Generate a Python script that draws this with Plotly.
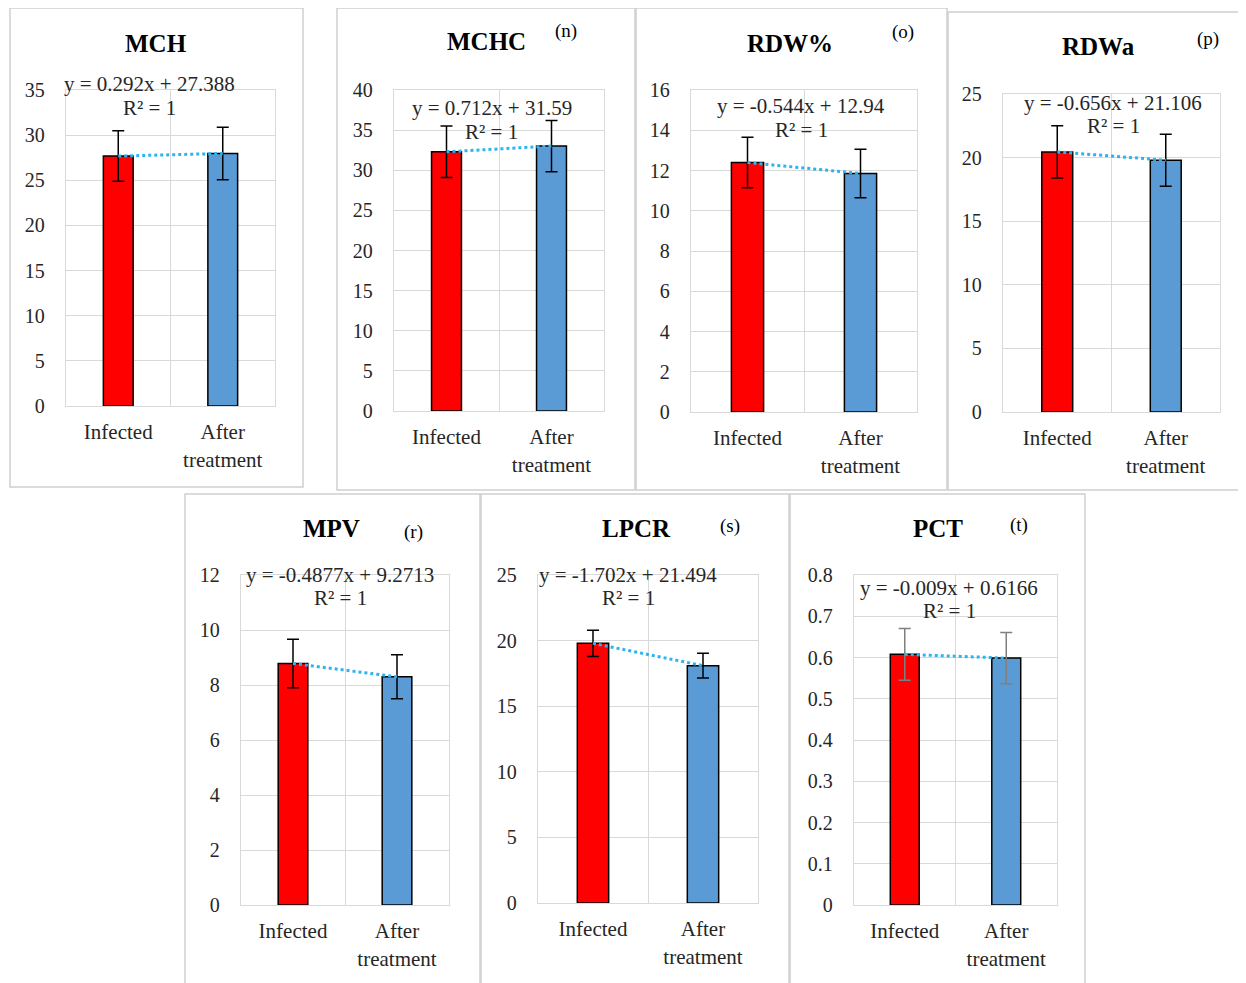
import plotly.graph_objects as go

# ---------------- data ----------------
categories = ["Infected", "After<br>treatment"]
panel_names = ["MCH", "MCHC", "RDW%", "RDWa", "MPV", "LPCR", "PCT"]
panel_tags = ["", "(n)", "(o)", "(p)", "(r)", "(s)", "(t)"]

mch_values = [27.680, 27.972]
mch_errors = [2.8, 2.9]
mchc_values = [32.302, 33.014]
mchc_errors = [3.2, 3.2]
rdw_pct_values = [12.396, 11.852]
rdw_pct_errors = [1.25, 1.2]
rdwa_values = [20.450, 19.794]
rdwa_errors = [2.05, 2.05]
mpv_values = [8.7836, 8.2959]
mpv_errors = [0.88, 0.8]
lpcr_values = [19.792, 18.090]
lpcr_errors = [1.0, 0.95]
pct_values = [0.6076, 0.5986]
pct_errors = [0.063, 0.062]

equations = [
    "y = 0.292x + 27.388",
    "y = 0.712x + 31.59",
    "y = -0.544x + 12.94",
    "y = -0.656x + 21.106",
    "y = -0.4877x + 9.2713",
    "y = -1.702x + 21.494",
    "y = -0.009x + 0.6166",
]
r_squared = ["R² = 1"] * 7

y_max = [35, 40, 16, 25, 12, 25, 0.8]
y_step = [5, 5, 2, 5, 2, 5, 0.1]

values = [mch_values, mchc_values, rdw_pct_values, rdwa_values,
          mpv_values, lpcr_values, pct_values]
errors = [mch_errors, mchc_errors, rdw_pct_errors, rdwa_errors,
          mpv_errors, lpcr_errors, pct_errors]

# ---------------- layout / style ----------------
W, H = 1246, 983
OFF = 8  # page body margin
FONT = "Liberation Serif"
GRID = "#d9d9d9"
BAR_COLORS = ["#FF0000", "#5B9BD5"]
ERR_COLORS = ["black"] * 6 + ["#7f7f7f"]


def px(x):
    return (x - OFF) / W


def py(y):
    return 1 - (y - OFF) / H


# plot areas in window pixels: (left, right, top, bottom)
plot_boxes = [
    (66, 275, 90, 406),
    (394, 604, 90, 411),
    (691, 917, 90, 412),
    (1003, 1220, 94, 412),
    (241, 449, 575, 905),
    (538, 758, 575, 903),
    (854, 1057, 575, 905),
]
panel_frames = [
    (10, 303, 8, 487),
    (337, 635, 8, 490),
    (636, 947, 8, 490),
    (948, 1252, 12, 490),
    (185, 480, 494, 995),
    (481, 789, 494, 995),
    (790, 1085, 494, 995),
]
title_pos = [(156, 43), (486, 42), (790, 43), (1098, 47), (331, 528), (636, 528), (938, 528)]
tag_pos = [None, (566, 31), (903, 32), (1208, 39), (413, 532), (730, 526), (1019, 525)]
eq_pos = [(149, 84), (492, 108), (801, 106), (1113, 103), (340, 575), (628, 575), (949, 588)]
r2_pos = [(149, 108), (491, 132), (801, 130), (1113, 126), (340, 598), (628, 598), (949, 611)]

fig = go.Figure()
layout = dict(
    template="none",
    width=W, height=H,
    margin=dict(l=0, r=0, t=0, b=0, pad=0, autoexpand=False),
    paper_bgcolor="white", plot_bgcolor="white",
    showlegend=False,
    bargap=0.715,
    font=dict(family=FONT, color="#262626"),
)
annotations = []
shapes = []

for i in range(7):
    xa = "x" if i == 0 else f"x{i+1}"
    ya = "y" if i == 0 else f"y{i+1}"
    xkey = "xaxis" if i == 0 else f"xaxis{i+1}"
    ykey = "yaxis" if i == 0 else f"yaxis{i+1}"
    l, r, t, b = plot_boxes[i]

    fig.add_trace(go.Bar(
        x=categories, y=values[i], xaxis=xa, yaxis=ya,
        marker=dict(color=BAR_COLORS, line=dict(color="black", width=1.5)),
        error_y=dict(type="data", array=errors[i], color=ERR_COLORS[i],
                     thickness=1.5, width=6),
        hoverinfo="skip",
    ))
    fig.add_trace(go.Scatter(
        x=categories, y=values[i], xaxis=xa, yaxis=ya, mode="lines",
        line=dict(color="#2DB4EE", width=3, dash="dot"),
        hoverinfo="skip",
    ))

    layout[xkey] = dict(
        domain=[px(l), px(r)], anchor=ya, type="category", automargin=False,
        tickson="boundaries", showgrid=True, gridcolor=GRID, gridwidth=1.3,
        showline=True, mirror=True, linecolor=GRID, linewidth=1.3,
        zeroline=False,
        ticks="", ticklabelstandoff=7,
        tickfont=dict(family=FONT, size=21, color="#262626"),
        fixedrange=True,
    )
    layout[ykey] = dict(
        domain=[py(b), py(t)], anchor=xa, range=[0, y_max[i]], automargin=False,
        tick0=0, dtick=y_step[i], showgrid=True, gridcolor=GRID, gridwidth=1.3,
        showline=True, mirror=True, linecolor=GRID, linewidth=1.3,
        zeroline=False,
        ticks="outside", ticklen=16, tickcolor="rgba(0,0,0,0)",
        tickfont=dict(family=FONT, size=20, color="#262626"),
        fixedrange=True,
    )

    fl, fr, ft, fb = panel_frames[i]
    shapes.append(dict(type="rect", xref="paper", yref="paper",
                       x0=px(fl), x1=px(fr), y0=py(fb), y1=py(ft),
                       line=dict(color="#d0d0d0", width=1.5), layer="below"))

    tx, ty = title_pos[i]
    annotations.append(dict(text=f"<b>{panel_names[i]}</b>", x=px(tx), y=py(ty),
                            xref="paper", yref="paper", showarrow=False,
                            xanchor="center", yanchor="middle",
                            font=dict(family=FONT, size=25, color="black")))
    if tag_pos[i]:
        gx, gy = tag_pos[i]
        annotations.append(dict(text=panel_tags[i], x=px(gx), y=py(gy),
                                xref="paper", yref="paper", showarrow=False,
                                xanchor="center", yanchor="middle",
                                font=dict(family=FONT, size=19, color="black")))
    ex, ey = eq_pos[i]
    annotations.append(dict(text=equations[i], x=px(ex), y=py(ey),
                            xref="paper", yref="paper", showarrow=False,
                            xanchor="center", yanchor="middle",
                            font=dict(family=FONT, size=21, color="#262626")))
    rx, ry = r2_pos[i]
    annotations.append(dict(text=r_squared[i], x=px(rx), y=py(ry),
                            xref="paper", yref="paper", showarrow=False,
                            xanchor="center", yanchor="middle",
                            font=dict(family=FONT, size=21, color="#262626")))

layout["annotations"] = annotations
layout["shapes"] = shapes
fig.update_layout(**layout)
fig.write_html("out.html")
